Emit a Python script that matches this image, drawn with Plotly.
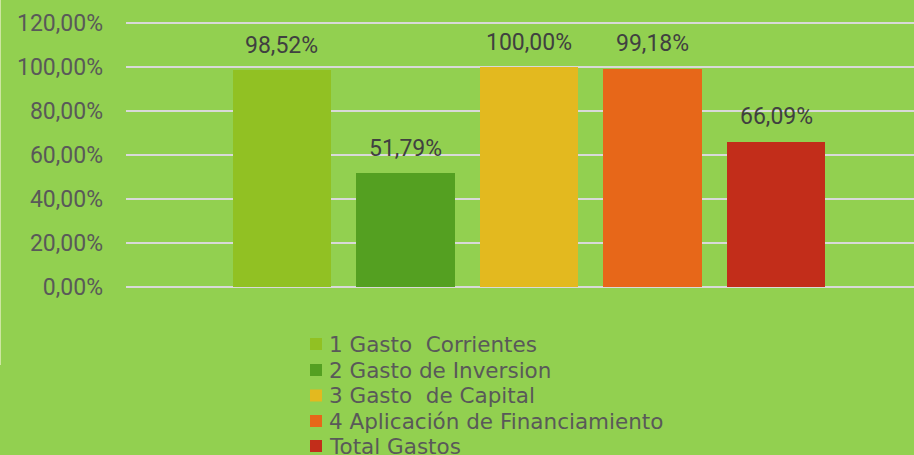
import plotly.graph_objects as go

categories = ["1 Gasto  Corrientes", "2 Gasto de Inversion", "3 Gasto  de Capital",
              "4 Aplicación de Financiamiento", "Total Gastos"]
values = [98.52, 51.79, 100.00, 99.18, 66.09]
colors = ["#91C123", "#54A021", "#E3B91F", "#E76719", "#C22D1A"]
y_tick_vals = [0, 20, 40, 60, 80, 100, 120]
y_tick_labels = ["0,00%", "20,00%", "40,00%", "60,00%", "80,00%", "100,00%", "120,00%"]

W, H = 914, 455
L, R, T, B = 126, 0, 20, 168
PW, PH = W - L - R, H - T - B
BG = "#92D050"
FONT = "Roboto"
LEGEND_FONT = "DejaVu Sans"

def px_x(px):
    return (px - L) / PW

def px_y(py):
    return (H - B - py) / PH

fig = go.Figure()
fig.add_trace(go.Bar(
    x=list(range(len(values))), y=values, marker=dict(color=colors, line=dict(width=0)),
    width=0.794, showlegend=False, hoverinfo="skip",
))

for i, v in enumerate(values):
    fig.add_annotation(
        x=i, y=v, xref="x", yref="y", showarrow=False, yanchor="middle", yshift=25,
        text=f"{v:.2f}".replace(".", ",") + "%",
        font=dict(family=FONT, size=23, color="#404040"),
    )

# custom legend
row_y = [344, 370, 395.5, 421, 446]
for name, col, ry in zip(categories, colors, row_y):
    fig.add_shape(type="rect", xref="paper", yref="paper",
                  x0=px_x(310), x1=px_x(322), y0=px_y(ry + 6), y1=px_y(ry - 6),
                  fillcolor=col, line=dict(width=0))
    fig.add_annotation(xref="paper", yref="paper", x=px_x(327), y=px_y(ry),
                       xanchor="left", yanchor="middle", showarrow=False,
                       text=name.replace("  ", " \u00a0"),
                       font=dict(family=LEGEND_FONT, size=21.5, color="#595959"))

fig.add_shape(type="line", xref="paper", yref="paper",
              x0=px_x(0.5), x1=px_x(0.5), y0=px_y(0), y1=px_y(365),
              line=dict(color="#CDE6A0", width=1))

fig.update_layout(
    width=W, height=H, autosize=False,
    margin=dict(l=L, r=R, t=T, b=B, pad=0),
    paper_bgcolor=BG, plot_bgcolor=BG,
    separators=",.",
    bargap=0, barmode="overlay",
    xaxis=dict(range=[-1.263, 5.117], visible=False, fixedrange=True),
    yaxis=dict(range=[0, 120 + 3 / 2.2], tickvals=y_tick_vals, ticktext=y_tick_labels,
               showgrid=True, gridcolor="#D9D9D9", gridwidth=1.5,
               zeroline=True, zerolinecolor="#D9D9D9", zerolinewidth=1.5,
               showline=False, ticks="", ticklabelstandoff=22,
               tickfont=dict(family=FONT, size=23, color="#595959"), fixedrange=True),
)

fig.write_html(
    "out.html",
    config={"displayModeBar": False},
    post_script="document.body.style.margin='0';document.body.style.overflow='hidden';",
)
